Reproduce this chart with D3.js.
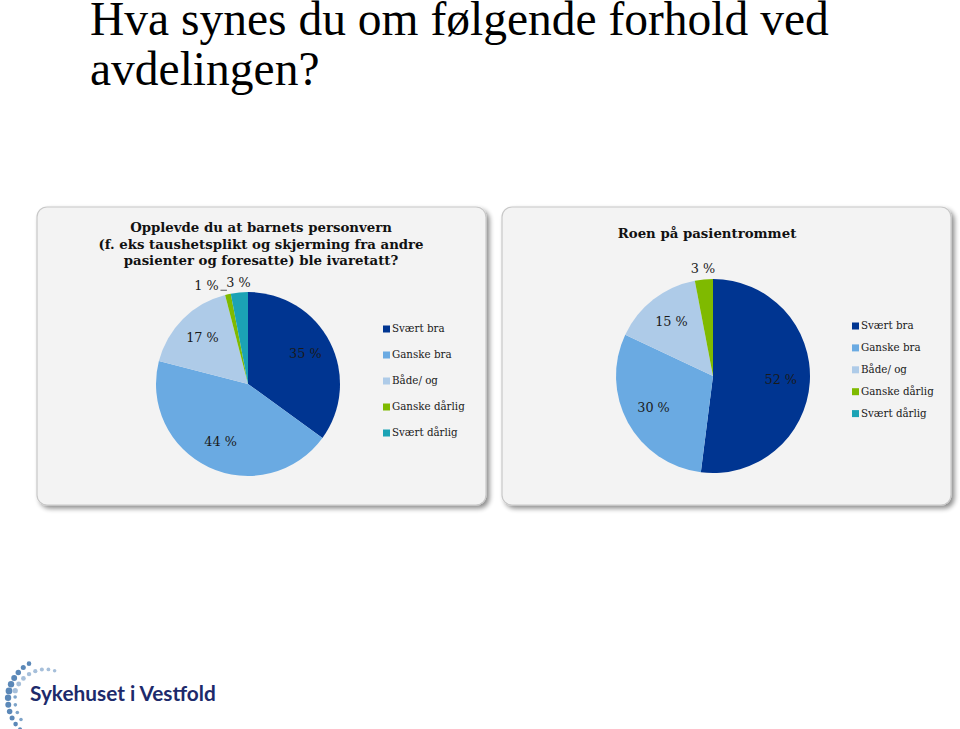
<!DOCTYPE html>
<html><head><meta charset="utf-8">
<script src="https://cdn.jsdelivr.net/npm/d3@7"></script>
<style>body{margin:0;background:#fff}svg{display:block}</style>
</head><body>
<svg id="c" width="960" height="729"></svg>
<script>
const categories = ["Svært bra", "Ganske bra", "Både/ og", "Ganske dårlig", "Svært dårlig"];
const colors = ["#003591", "#6aaae2", "#aecbe8", "#7fba00", "#1ba3b5"];
const valuesPersonvern = [35, 44, 17, 1, 3];
const valuesRoen = [52, 30, 15, 3, 0];
const titlePersonvern = ["Opplevde du at barnets personvern", "(f. eks taushetsplikt og skjerming fra andre", "pasienter og foresatte) ble ivaretatt?"];
const titleRoen = ["Roen på pasientrommet"];
const pageTitle = ["Hva synes du om følgende forhold ved", "avdelingen?"];

const svg = d3.select("#c");
const serif = "'DejaVu Serif', Georgia, serif";

svg.selectAll("text.pt").data(pageTitle).join("text")
  .attr("x", 90).attr("y", (d, i) => 35 + i * 50)
  .attr("font-family", "'Liberation Serif', 'Times New Roman', serif")
  .attr("font-size", 47.5).attr("fill", "#000").text(d => d);

const defs = svg.append("defs");
const f = defs.append("filter").attr("id", "sh").attr("x", "-5%").attr("y", "-5%").attr("width", "115%").attr("height", "115%");
f.append("feGaussianBlur").attr("in", "SourceAlpha").attr("stdDeviation", 2.5);
f.append("feOffset").attr("dx", 3).attr("dy", 3).attr("result", "b");
f.append("feComponentTransfer").append("feFuncA").attr("type", "linear").attr("slope", 0.45);
const m = f.append("feMerge"); m.append("feMergeNode"); m.append("feMergeNode").attr("in", "SourceGraphic");

function panel(x, y, w, h, title, titleX, titleY0, values, cx, cy, r, legX, legY0, legDy) {
  const g = svg.append("g");
  g.append("rect").attr("x", x).attr("y", y).attr("width", w).attr("height", h)
    .attr("rx", 10).attr("fill", "#f3f3f3").attr("stroke", "#c8c8c8").attr("stroke-width", 1.2)
    .attr("filter", "url(#sh)");
  g.selectAll("text.t").data(title).join("text")
    .attr("x", titleX).attr("y", (d, i) => titleY0 + i * 16.5)
    .attr("text-anchor", "middle").attr("font-family", serif).attr("font-weight", "bold")
    .attr("font-size", 13.3).attr("fill", "#111").text(d => d);

  const pie = d3.pie().sort(null).value(d => d)(values);
  const arc = d3.arc().innerRadius(0).outerRadius(r);
  const pg = g.append("g").attr("transform", `translate(${cx},${cy})`);
  pg.selectAll("path").data(pie).join("path").attr("d", arc).attr("fill", (d, i) => colors[i]);

  const inner = d3.arc().innerRadius(r * 0.7).outerRadius(r * 0.7);
  const outer = d3.arc().innerRadius(r * 1.1).outerRadius(r * 1.1);
  const labelData = pie.filter(d => d.data > 0);
  labelData.forEach(d => {
    const small = d.data < 5;
    let [lx, ly] = small ? outer.centroid(d) : inner.centroid(d);
    const txt = d.data + " %";
    const t = pg.append("text").attr("font-family", serif).attr("font-size", 12.8)
      .attr("fill", "#1a1a1a").attr("text-anchor", "middle").attr("dominant-baseline", "middle");
    if (small) {
      // thin slice colliding with the next one: pushed left with a short leader
      const next = pie[d.index + 1];
      if (next && next.data > 0 && next.data < 5 && d.data <= 1) {
        const [nx, ny] = outer.centroid(next);
        const tx = nx - 32, ty = ny + 3;
        t.attr("x", tx).attr("y", ty).text(txt);
        const edge = d3.arc().innerRadius(r).outerRadius(r).centroid(d);
        pg.append("path").attr("d", `M${tx + 14},${ty + 4}L${edge[0] - 1},${ty + 4}`)
          .attr("stroke", "#333").attr("stroke-width", 0.8).attr("fill", "none");
        return;
      }
    }
    t.attr("x", lx).attr("y", ly).text(txt);
  });

  const lg = g.append("g");
  categories.forEach((c, i) => {
    const yy = legY0 + i * legDy;
    lg.append("rect").attr("x", legX).attr("y", yy - 3.5).attr("width", 7).attr("height", 7).attr("fill", colors[i]);
    lg.append("text").attr("x", legX + 9).attr("y", yy).attr("dominant-baseline", "middle")
      .attr("font-family", serif).attr("font-size", 10.3).attr("fill", "#1a1a1a").text(c);
  });
}

panel(37, 207, 449, 298, titlePersonvern, 261, 232, valuesPersonvern, 248, 384, 92, 383, 329, 26);
panel(502, 207, 449, 298, titleRoen, 707, 238, valuesRoen, 713, 376, 97, 852, 326, 21.9);

// Logo
const logo = svg.append("g");
const lcx = 50, lcy = 700;
d3.range(0, 12).forEach(i => {
  const a = (240 - i * 9.5) * Math.PI / 180;
  const rr = 3.4 - Math.abs(i - 5) * 0.22;
  logo.append("circle").attr("cx", lcx + 42 * Math.cos(a)).attr("cy", lcy + 42 * Math.sin(a)).attr("r", rr)
    .attr("fill", "#5b88b8");
});
d3.range(0, 8).forEach(i => {
  const a = (195 + i * 12) * Math.PI / 180;
  const rad = 36 - i * 0.9;
  logo.append("circle").attr("cx", lcx + rad * Math.cos(a)).attr("cy", lcy + rad * Math.sin(a)).attr("r", 2.6 - i * 0.12)
    .attr("fill", "#a6bfda");
});
d3.range(0, 4).forEach(i => {
  const a = (185 - i * 13) * Math.PI / 180;
  logo.append("circle").attr("cx", lcx + 35 * Math.cos(a)).attr("cy", lcy + 35 * Math.sin(a)).attr("r", 1.8)
    .attr("fill", "#7ea4c9");
});
logo.append("text").attr("x", 30).attr("y", 701).attr("font-family", "Lato, 'Open Sans', sans-serif")
  .attr("font-weight", "bold").attr("font-size", 20.8).attr("fill", "#1d2a6b").text("Sykehuset i Vestfold");
</script>
</body></html>
